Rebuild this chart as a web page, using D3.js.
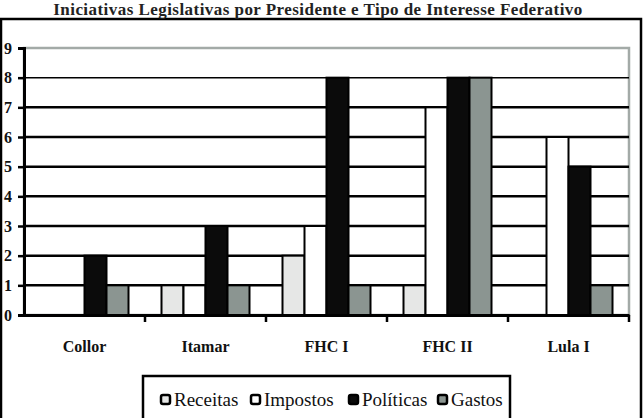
<!DOCTYPE html>
<html>
<head>
<meta charset="utf-8">
<script src="https://cdn.jsdelivr.net/npm/d3@7"></script>
<style>
  body { margin: 0; background: #fff; }
  svg { display: block; }
  text { font-family: 'Liberation Serif', 'DejaVu Serif', serif; }
</style>
</head>
<body>
<svg id="chart" width="644" height="418"></svg>
<script>
// chart data
const presidents = ['Collor', 'Itamar', 'FHC I', 'FHC II', 'Lula I']
const series = ['Receitas', 'Impostos', 'Políticas', 'Gastos']
const receitas = [0, 1, 2, 1, 0]
const impostos = [0, 1, 3, 7, 6]
const politicas = [2, 3, 8, 8, 5]
const gastos = [1, 1, 1, 8, 1]
const yTicks = [0, 1, 2, 3, 4, 5, 6, 7, 8, 9]
const title = 'Iniciativas Legislativas por Presidente e Tipo de Interesse Federativo'

const values = [receitas, impostos, politicas, gastos]
const colors = ['#e6e7e6', '#ffffff', '#0b0b0b', '#8b9591']

const svg = d3.select('#chart')
const plotLeft = 24, plotRight = 629, plotTop = 48, plotBottom = 315

// outer frame
svg.append('rect')
  .attr('x', 1).attr('y', 19)
  .attr('width', 640).attr('height', 410)
  .attr('fill', 'none')
  .attr('stroke', '#000')
  .attr('stroke-width', 2.5)

svg.append('text')
  .attr('x', 318).attr('y', 15)
  .attr('text-anchor', 'middle')
  .attr('font-size', 17)
  .attr('font-weight', 'bold')
  .attr('letter-spacing', 0.45)
  .attr('fill', '#222')
  .text(title)

const x0 = d3.scaleBand().domain(presidents).range([plotLeft, plotRight])
const x1 = d3.scaleBand().domain(series).range([0, x0.bandwidth()])
  .paddingInner(0).paddingOuter(0.75)
const y = d3.scaleLinear().domain([0, 9]).range([plotBottom, plotTop])

// plot area border (gray)
svg.append('rect')
  .attr('x', plotLeft).attr('y', plotTop)
  .attr('width', plotRight - plotLeft).attr('height', plotBottom - plotTop)
  .attr('fill', 'none')
  .attr('stroke', '#a3aaa7')
  .attr('stroke-width', 2.5)

// gridlines
svg.append('g')
  .selectAll('line')
  .data(yTicks.filter(d => d > 0 && d < 9))
  .join('line')
  .attr('x1', plotLeft).attr('x2', plotRight)
  .attr('y1', d => y(d)).attr('y2', d => y(d))
  .attr('stroke', '#000')
  .attr('stroke-width', d => d === 8 ? 1.5 : 2.5)

// bars
const groups = svg.append('g')
  .selectAll('g')
  .data(presidents)
  .join('g')
  .attr('transform', d => `translate(${x0(d)},0)`)

groups.selectAll('rect')
  .data((d, i) => series.map((s, j) => ({ s, v: values[j][i], c: colors[j] })).filter(d => d.v > 0))
  .join('rect')
  .attr('x', d => x1(d.s))
  .attr('y', d => y(d.v))
  .attr('width', x1.bandwidth())
  .attr('height', d => y(0) - y(d.v))
  .attr('fill', d => d.c)
  .attr('stroke', '#000')
  .attr('stroke-width', 2)

// y axis
const yAxis = svg.append('g')
  .attr('transform', `translate(${plotLeft},0)`)
  .call(d3.axisLeft(y).tickValues(yTicks).tickSize(6).tickPadding(6).tickFormat(d3.format('d')))
yAxis.attr('font-family', null)
yAxis.select('.domain').attr('stroke-width', 3)
yAxis.selectAll('.tick line').attr('stroke-width', 2.5)
yAxis.selectAll('text')
  .attr('font-size', 16)
  .attr('font-weight', 'bold')
  .attr('fill', '#111')

// x axis
const xAxis = svg.append('g')
  .attr('transform', `translate(0,${plotBottom})`)
  .call(d3.axisBottom(x0).tickSize(0).tickPadding(26))
xAxis.attr('font-family', null)
xAxis.select('.domain').attr('stroke-width', 3)
xAxis.selectAll('text')
  .attr('font-size', 16)
  .attr('font-weight', 'bold')
  .attr('fill', '#111')

// category boundary ticks
svg.append('g')
  .selectAll('line')
  .data(presidents.slice(1).concat(['end']))
  .join('line')
  .attr('x1', d => d === 'end' ? plotRight : x0(d))
  .attr('x2', d => d === 'end' ? plotRight : x0(d))
  .attr('y1', plotBottom).attr('y2', plotBottom + 7)
  .attr('stroke', '#000')
  .attr('stroke-width', 2.5)

// legend
svg.append('rect')
  .attr('x', 143).attr('y', 376)
  .attr('width', 367).attr('height', 50)
  .attr('fill', '#fff')
  .attr('stroke', '#000')
  .attr('stroke-width', 2.5)

const legendX = [160, 250, 348, 437]
const items = svg.append('g')
  .selectAll('g')
  .data(series)
  .join('g')
  .attr('transform', (d, i) => `translate(${legendX[i]},395)`)

items.append('rect')
  .attr('x', 1).attr('y', 0)
  .attr('width', 9).attr('height', 9)
  .attr('rx', 2)
  .attr('fill', (d, i) => colors[i])
  .attr('stroke', '#000')
  .attr('stroke-width', 2.5)

items.append('text')
  .attr('x', 14).attr('y', 11)
  .attr('font-size', 19)
  .attr('fill', '#111')
  .text(d => d)
</script>
</body>
</html>
